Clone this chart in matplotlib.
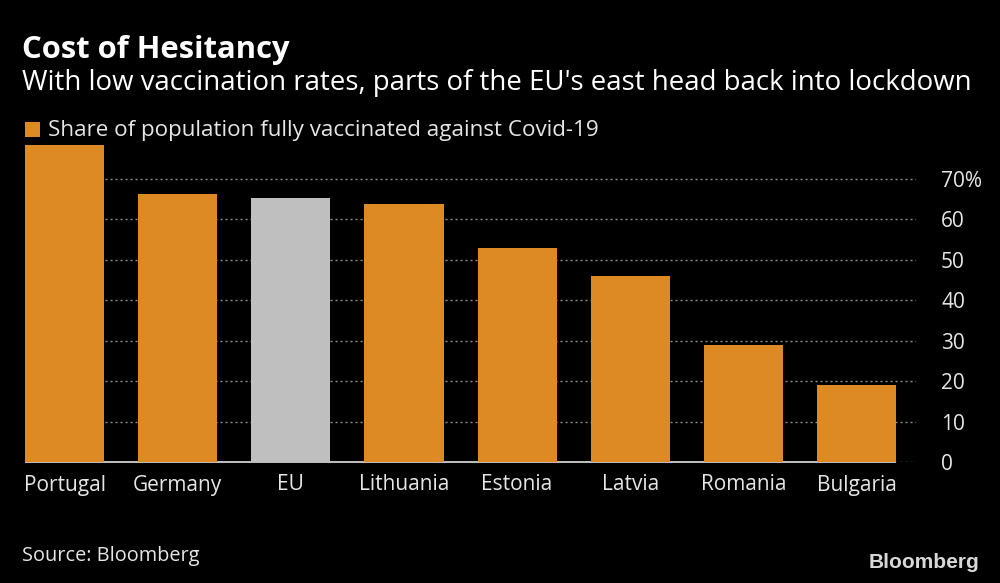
import numpy as np
import matplotlib
matplotlib.use('Agg')
import matplotlib.pyplot as plt
from matplotlib.patches import Rectangle

countries = ['Portugal', 'Germany', 'EU', 'Lithuania', 'Estonia', 'Latvia', 'Romania', 'Bulgaria']
shares = [78.3, 66.2, 65.1, 63.7, 52.9, 46.0, 28.9, 19.1]
yticks = [0, 10, 20, 30, 40, 50, 60, 70]
yticklabels = ['0', '10', '20', '30', '40', '50', '60', '70%']

orange = '#dd8a24'
grey = '#bfbfbf'
colors = [grey if c == 'EU' else orange for c in countries]
bar_width = 0.7

plt.rcParams['font.family'] = ['Open Sans', 'DejaVu Sans']

fig = plt.figure(figsize=(10, 5.83), dpi=100, facecolor='black')
# axes placed in pixels of the 1000x583 frame
ax = fig.add_axes([25 / 1000, 1 - 462 / 583, 891 / 1000, 317 / 583], facecolor='black')

index = np.arange(len(countries))
ax.bar(index, shares, bar_width, color=colors, zorder=3)

ax.set_xlim(-bar_width / 2, 7.526)
ax.set_ylim(0, 78.3)
ax.set_yticks(yticks)
ax.set_yticklabels(yticklabels, ha='left')
ax.yaxis.tick_right()
ax.tick_params(axis='y', length=0, labelsize=15, colors='#e6e6e6', pad=18)
ax.tick_params(axis='x', length=0, labelsize=15, colors='#e6e6e6', pad=9)
ax.set_xticks(index)
ax.set_xticklabels(countries)

ax.grid(axis='y', color='#8c8c8c', linestyle=(0, (1.5, 2.1)), linewidth=1.0, zorder=1)
ax.set_axisbelow(True)
for s in ['top', 'left', 'right', 'bottom']:
    ax.spines[s].set_visible(False)
# solid baseline stops at the last bar, the dotted gridline carries on
ax.hlines(0, -bar_width / 2, index[-1] + bar_width / 2, color='#e0e0e0', linewidth=1.2, zorder=2, clip_on=False)

fig.text(22 / 1000, 1 - 50 / 583, 'Cost of Hesitancy', color='white', fontsize=22.3, fontweight='bold', va='center')
fig.text(22 / 1000, 1 - 83 / 583, "With low vaccination rates, parts of the EU's east head back into lockdown",
         color='white', fontsize=19.87, va='center')
fig.add_artist(Rectangle((25 / 1000, 1 - 137 / 583), 15 / 1000, 15 / 583, transform=fig.transFigure,
                         color=orange, linewidth=0))
fig.text(48 / 1000, 1 - 130.5 / 583, 'Share of population fully vaccinated against Covid-19', color='#e6e6e6',
         fontsize=16.1, va='center')
fig.text(22 / 1000, 1 - 556 / 583, 'Source: Bloomberg', color='#e6e6e6', fontsize=14.3, va='center')
fig.text(979 / 1000, 1 - 563 / 583, 'Bloomberg', color='#d8d8d8', fontsize=15, fontweight='bold',
         va='center', ha='right', family='Liberation Sans')

plt.savefig('out.png', dpi=100, facecolor='black')
